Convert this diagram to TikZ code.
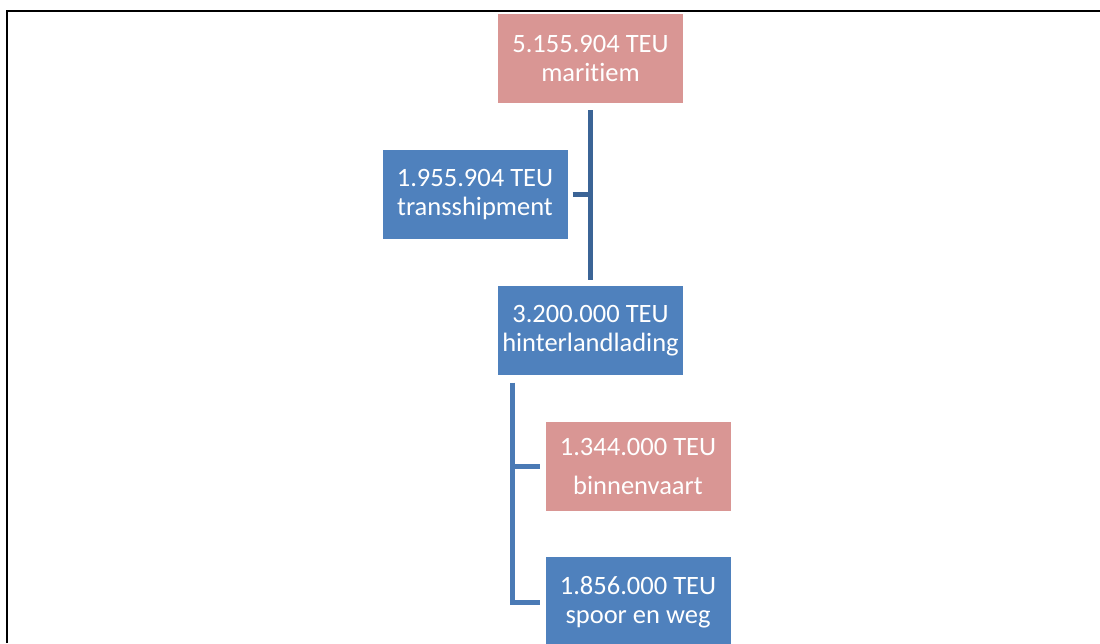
\documentclass[tikz,border=0pt]{standalone}
\usepackage{fontspec}
\setmainfont[Ligatures=NoCommon]{Carlito}
\usepackage{xcolor}
\definecolor{seaRose}{HTML}{D99694}
\definecolor{portBlue}{HTML}{4F81BD}
\definecolor{lineDark}{HTML}{3B6496}
\definecolor{lineBlue}{HTML}{4A7AB5}
\usepackage{tikz}
\usetikzlibrary{positioning, calc}

\begin{document}
\begin{tikzpicture}[
    node distance=46pt,
    flow/.style={
        rectangle,
        minimum width=185pt,
        minimum height=89pt,
        inner sep=0pt,
        align=center,
        text=white,
        font=\fontsize{26.5}{29.5}\selectfont
    },
    sea/.style={flow, fill=seaRose},
    land/.style={flow, fill=portBlue},
    link/.style={line width=5pt, lineDark},
    branch/.style={line width=5pt, lineBlue}
]
\useasboundingbox (0,0) rectangle (1100pt,-643pt);

% frame
\draw[line width=2.5pt] (7pt,-643pt) -- (7pt,-11pt) -- (1100pt,-11pt);

\node[sea] (mar) at (590.5pt,-58.5pt) {5.155.904 TEU\\maritiem};
\node[land, below=183pt of mar] (hint) {3.200.000 TEU\\hinterlandlading};
\node[land] (trans) at (475pt,-194.5pt) {1.955.904 TEU\\transshipment};

\node[sea, below=46pt of hint, xshift=47.5pt] (binnen) {1.344.000 TEU\\[10pt]binnenvaart};
\node[land, below=46pt of binnen, minimum height=90pt] (spoor) {1.856.000 TEU\\spoor en weg};

% maritiem split
\draw[link] ($(mar.south)+(0,-7pt)$) -- ($(hint.north)+(0,6pt)$);
\draw[link] ($(trans.east)+(5pt,0)$) -- (trans.east -| mar.south);

% hinterland split
\coordinate (h) at ($(hint.south west)+(15pt,-7pt)$);
\draw[branch] (h) |- ($(spoor.west)+(-5pt,0)$);
\draw[branch] (h |- binnen.west) -- ($(binnen.west)+(-5pt,0)$);

\end{tikzpicture}
\end{document}
